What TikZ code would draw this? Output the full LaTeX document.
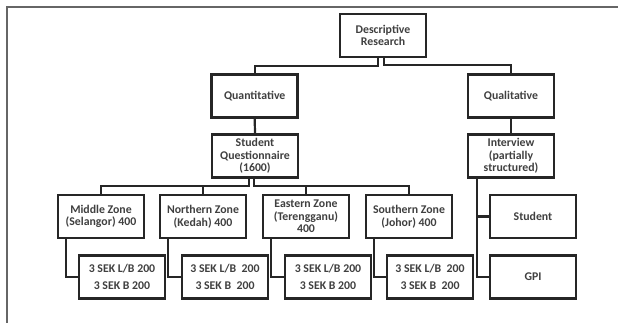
\documentclass[tikz,border=0pt]{standalone}
\usepackage{fontspec}
\setmainfont{Carlito}
\begin{document}
\begin{tikzpicture}[x=1pt,y=-1pt,
  box/.style={draw=black!85, line width=2.5pt, fill=white, minimum width=86pt, minimum height=43pt,
    inner sep=1pt, align=center, font=\bfseries\fontsize{11.8}{12.6}\selectfont, text=black!75},
  sekbox/.style={box, font=\bfseries\fontsize{11.8}{17.3}\selectfont},
  conn/.style={draw=black!85, line width=2.2pt},
  frame/.style={draw=gray!80!black, line width=1.3pt}]
\useasboundingbox (0,0) rectangle (618,323);
\draw[frame] (7,323) -- (7,7) -- (618,7);

\node[box] (desc) at (383,35.5) {Descriptive\\Research};
\node[box] (quant) at (254.7,96) {Quantitative};
\node[box] (qual) at (511,96) {Qualitative};
\node[box] (sq) at (255,156) {Student\\Questionnaire\\(1600)};
\node[box] (intv) at (511,156) {Interview\\(partially\\structured)};
\node[box] (middle) at (101,216.5) {Middle Zone\\(Selangor) 400};
\node[box] (north) at (203,216.5) {Northern Zone\\(Kedah) 400};
\node[box] (east) at (306,216.5) {Eastern Zone\\(Terengganu)\\400};
\node[box] (south) at (409,216.5) {Southern Zone\\(Johor) 400};
\node[box] (student) at (533,216.5) {Student};
\node[sekbox] (sek1) at (122,277) {3 SEK L/B 200\\3 SEK B 200};
\node[sekbox] (sek2) at (225,277) {3 SEK L/B~~200\\3 SEK B~~200};
\node[sekbox] (sek3) at (328,277) {3 SEK L/B 200\\3 SEK B 200};
\node[sekbox] (sek4) at (430,277) {3 SEK L/B~~200\\3 SEK B~~200};
\node[box] (gpi) at (533,277) {GPI};

\coordinate (zb) at (0,186);
\draw[conn] ([xshift=-5pt]desc.south) -- ++(0,7.5) -| (quant.north);
\draw[conn] ([xshift=1pt]desc.south) -- ++(0,6.5) -| (qual.north);
\draw[conn] (quant.south) -- (sq.north);
\draw[conn] (qual.south) -- (intv.north);
\draw[conn] ([xshift=-6pt]sq.south) |- (zb -| middle.north) -- (middle.north);
\draw[conn] ([xshift=-6pt]sq.south) |- (zb -| north.north) -- (north.north);
\draw[conn] ([xshift=-1pt]sq.south) |- (zb -| east.north) -- (east.north);
\draw[conn] ([xshift=-1pt]sq.south) |- (zb -| south.north) -- (south.north);
\draw[conn] ([xshift=9pt]middle.south west) |- (sek1.west);
\draw[conn] ([xshift=9pt]north.south west) |- (sek2.west);
\draw[conn] ([xshift=9pt]east.south west) |- (sek3.west);
\draw[conn] ([xshift=9pt]south.south west) |- (sek4.west);
\draw[conn] ([xshift=10pt]intv.south west) |- (gpi.west);
\draw[conn] ([xshift=10pt]intv.south west) |- (student.west);
\end{tikzpicture}
\end{document}
